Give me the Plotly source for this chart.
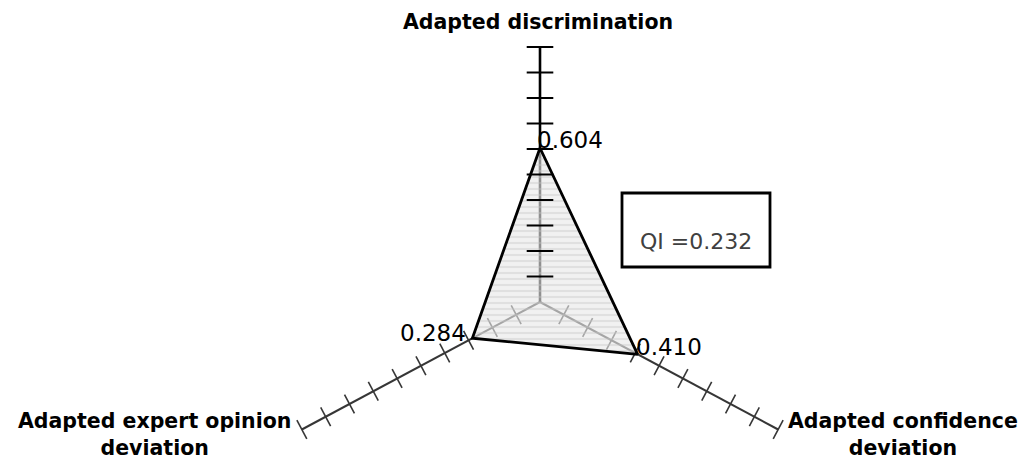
import numpy as np
import plotly.graph_objects as go

# ---- chart data -------------------------------------------------------------
axis_titles = ["Adapted discrimination",
               "Adapted confidence<br>deviation",
               "Adapted expert opinion<br>deviation"]
axis_angles_deg = [0, 120, 240]          # clockwise from 12 o'clock
values = [0.604, 0.410, 0.284]
value_text = ["0.604", "0.410", "0.284"]
tick_values = [0.1, 0.2, 0.3, 0.4, 0.5, 0.6, 0.7, 0.8, 0.9, 1.0]
qi_text = "QI =0.232"

# ---- canvas / scale ---------------------------------------------------------
W, H = 1032, 461
CX, CY = 540, 302            # centre of the star, pixels from top-left
PX_X, PX_Y = 275.0, 255.0    # pixels per unit along x and y

x_range = [-CX / PX_X, (W - CX) / PX_X]
y_range = [-(H - CY) / PX_Y, CY / PX_Y]

theta = np.radians(axis_angles_deg)
ux, uy = np.sin(theta), np.cos(theta)

def polar_xy(i, r):
    r = np.asarray(r, dtype=float)
    return r * ux[i], r * uy[i]

# on-screen slope of the two lower axes -> tick rotation
side_angle = np.degrees(np.arctan2(abs(uy[1]) * PX_Y, abs(ux[1]) * PX_X))

fig = go.Figure()

AX_DARK = "#363636"

# axis lines
for i in range(3):
    xs, ys = polar_xy(i, [0, 1])
    fig.add_trace(go.Scatter(
        x=xs, y=ys, mode="lines", hoverinfo="skip", showlegend=False,
        line=dict(color="black" if i == 0 else AX_DARK,
                  width=2.6 if i == 0 else 2.0)))

# ticks on the two lower axes
for i, ang in ((1, side_angle), (2, -side_angle)):
    xs, ys = polar_xy(i, tick_values)
    fig.add_trace(go.Scatter(
        x=xs, y=ys, mode="markers", hoverinfo="skip", showlegend=False,
        marker=dict(symbol="line-ns", size=15, angle=ang,
                    line=dict(color=AX_DARK, width=1.6))))

# value triangle
px, py = [], []
for i, v in enumerate(values):
    x, y = polar_xy(i, v)
    px.append(float(x))
    py.append(float(y))
fig.add_trace(go.Scatter(
    x=px + [px[0]], y=py + [py[0]], mode="lines", fill="toself",
    hoverinfo="skip", showlegend=False,
    fillcolor="rgba(228,228,228,0.6)",
    fillpattern=dict(shape="-", fgcolor="rgba(195,195,195,0.75)",
                     bgcolor="rgba(232,232,232,0.62)", size=6, solidity=0.35),
    line=dict(color="black", width=2.8)))

# ticks on the top axis (drawn over the fill)
xs, ys = polar_xy(0, tick_values)
fig.add_trace(go.Scatter(
    x=xs, y=ys, mode="markers", hoverinfo="skip", showlegend=False,
    marker=dict(symbol="line-ew", size=19,
                line=dict(color="black", width=2))))

annotations = []

# value labels at the triangle corners
val_font = dict(family="DejaVu Sans", size=23, color="black")
label_pos = [dict(xanchor="left", xshift=-5, yshift=-7),
             dict(xanchor="left", xshift=-4, yshift=-8),
             dict(xanchor="right", xshift=-4, yshift=-10)]
for i in range(3):
    annotations.append(dict(
        x=px[i], y=py[i], xref="x", yref="y", text=value_text[i],
        showarrow=False, yanchor="bottom", font=val_font, **label_pos[i]))

# axis titles at the axis ends
title_font = dict(family="DejaVu Sans", size=20.5, color="black", weight="bold")
ex, ey = ux, uy
annotations.append(dict(x=ex[0], y=ey[0], xref="x", yref="y", text=axis_titles[0],
                        showarrow=False, xanchor="center", yanchor="middle",
                        yshift=25, xshift=-2, font=title_font))
annotations.append(dict(x=ex[1], y=ey[1], xref="x", yref="y", text=axis_titles[1],
                        showarrow=False, xanchor="left", yanchor="middle",
                        align="center", xshift=8, yshift=-5, font=title_font))
annotations.append(dict(x=ex[2], y=ey[2], xref="x", yref="y", text=axis_titles[2],
                        showarrow=False, xanchor="right", yanchor="middle",
                        align="center", xshift=-9, yshift=-5, font=title_font))

# quality index box
box = dict(x0=622 / W, x1=770 / W, y0=1 - 267 / H, y1=1 - 193 / H)
annotations.append(dict(x=(box["x0"] + box["x1"]) / 2, y=1 - 241 / H,
                        xref="paper", yref="paper", text=qi_text, showarrow=False,
                        xanchor="center", yanchor="middle",
                        font=dict(family="DejaVu Sans", size=22, color="#404040")))

fig.update_layout(
    width=W, height=H, autosize=False,
    margin=dict(l=0, r=0, t=0, b=0, pad=0),
    paper_bgcolor="white", plot_bgcolor="white",
    xaxis=dict(range=x_range, visible=False, fixedrange=True),
    yaxis=dict(range=y_range, visible=False, fixedrange=True),
    shapes=[dict(type="rect", xref="paper", yref="paper",
                 line=dict(color="black", width=2.8), **box)],
    annotations=annotations,
)

fig.write_html("out.html")
